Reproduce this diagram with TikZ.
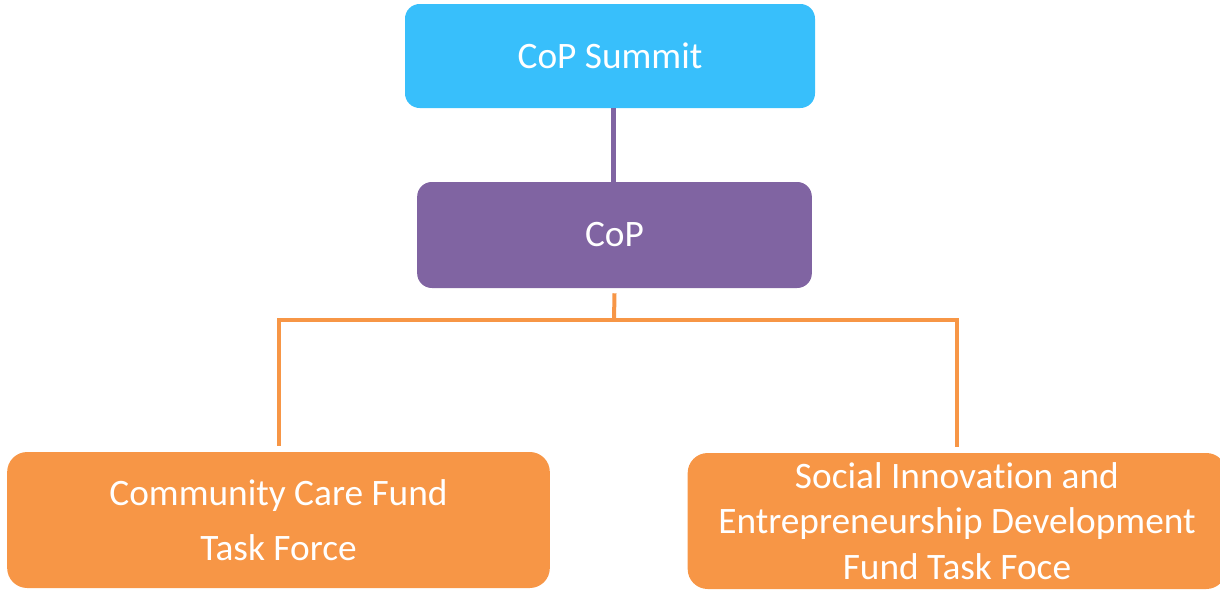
\documentclass[tikz,border=0pt]{standalone}
\usepackage{fontspec}
\setmainfont{Carlito}[RawFeature=-liga]
\definecolor{skyblue}{RGB}{56,191,251}
\definecolor{copviolet}{RGB}{128,100,162}
\definecolor{tforange}{RGB}{247,150,70}
\begin{document}
\begin{tikzpicture}[x=0.75pt,y=-0.75pt,
  box/.style={rounded corners=11pt,text=white,align=center,inner sep=0pt,font=\fontsize{28}{34}\selectfont},
  vline/.style={line width=3.75pt,copviolet},
  oline/.style={line width=3pt,tforange}]
\useasboundingbox (0,0) rectangle (1220,589);
\node[box,fill=skyblue,minimum width=307.5pt,minimum height=78pt] (summit) at (610,56) {CoP Summit};
\node[box,fill=copviolet,minimum width=296pt,minimum height=79.5pt] (cop) at (614.5,235) {CoP};
\node[box,fill=tforange,rounded corners=15pt,minimum width=407pt,minimum height=102pt,font=\fontsize{28}{41}\selectfont] (ccf) at (278.5,520) {Community Care Fund\\Task Force};
\node[box,fill=tforange,rounded corners=15pt,minimum width=404pt,minimum height=102pt,font=\fontsize{28}{34}\selectfont] (sie) at (957,521) {Social Innovation and\\Entrepreneurship Development\\Fund Task Foce};
\coordinate (bar) at (614,320);
\draw[vline] ([xshift=-1pt]cop.north |- summit.south) -- ([xshift=-1pt]cop.north);
\draw[oline] ([yshift=-3.75pt]cop.south) -- (bar);
\draw[oline] ([yshift=4.5pt]ccf.north) -- (ccf.north |- bar) -- (sie.north |- bar) -- ([yshift=4.5pt]sie.north);
\end{tikzpicture}
\end{document}
